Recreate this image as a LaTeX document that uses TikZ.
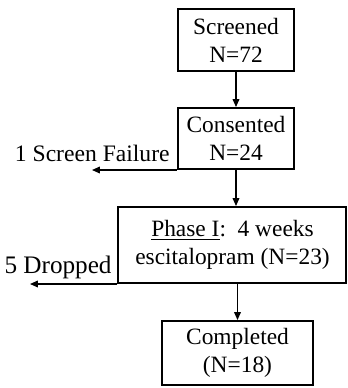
\documentclass[tikz,border=0pt]{standalone}
\usepackage{fontspec}
\setmainfont{Liberation Serif}
\usetikzlibrary{positioning,arrows.meta,calc}
\tikzset{
  cbox/.style={draw=black,line width=1pt,align=center,inner sep=0pt,
               font=\fontsize{11.7}{14}\selectfont},
  arr/.style={-{Triangle[length=4pt,width=3.4pt]},line width=0.6pt},
  lbl/.style={font=\fontsize{11.8}{14}\selectfont,inner sep=0pt},
}
\begin{document}
\begin{tikzpicture}[x=0.5pt,y=-0.5pt]
        \useasboundingbox (0,0) rectangle (348,388);
        \node[cbox,minimum width=58pt,minimum height=31pt] (scr) at (236,40) {Screened\\N=72};
        \node[cbox,minimum width=58pt,minimum height=30.5pt] (con) at (236,138.5) {Consented\\N=24};
        \node[cbox,minimum width=114pt,minimum height=38pt] (ph1) at (232.5,245) {\underline{Phase I}:\ \ 4 weeks\\escitalopram (N=23)};
        \node[cbox,minimum width=75.5pt,minimum height=32pt] (cmp) at (237.5,353) {Completed\\(N=18)};
        \coordinate (fail) at (92,170);
        \coordinate (drop) at (30,284);
        \node[lbl,anchor=east] (fl) at (170,153) {1 Screen Failure};
        \node[lbl,anchor=east,font=\fontsize{12.6}{14}\selectfont] (dl) at (112,267) {5 Dropped};
        \draw[arr] (scr)--(con);
        \draw[arr] (con.south)--(con.south |- ph1.north);
        \draw[arr] (cmp.north |- ph1.south)--(cmp.north);
        \draw[arr] (con.south west)--(fail);
        \draw[arr] (ph1.south west)--(drop);
      \end{tikzpicture}
\end{document}
